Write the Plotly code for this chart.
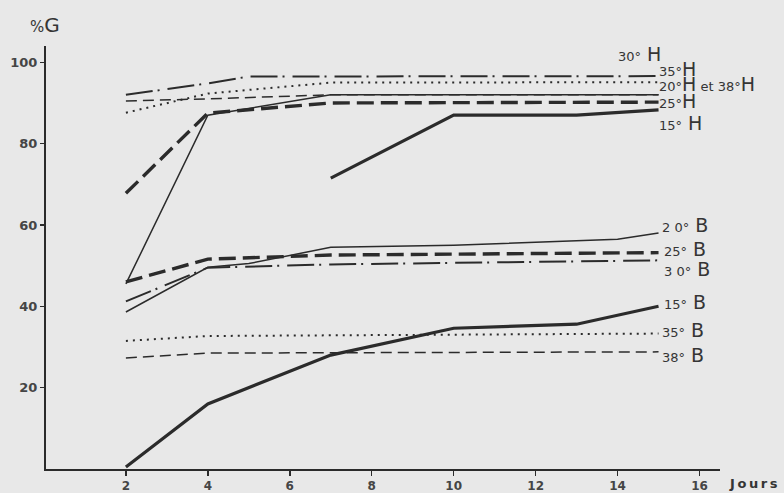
import plotly.graph_objects as go

# ---- data ----
days_15H = [7, 10, 13, 15]
pct_15H = [71.5, 87, 87, 88.3]
days_20H = [2, 4, 7, 15]
pct_20H = [45.5, 87, 92, 92]
days_25H = [2, 4, 7, 15]
pct_25H = [67.8, 87.5, 90, 90.2]
days_30H = [2, 4, 5, 15]
pct_30H = [92, 94.8, 96.5, 96.6]
days_35H = [2, 4, 7, 15]
pct_35H = [87.6, 92.3, 95, 95.1]
days_38H = [2, 4, 7, 15]
pct_38H = [90.5, 91, 92, 92]

days_15B = [2, 4, 7, 10, 13, 15]
pct_15B = [0.5, 16, 28, 34.6, 35.6, 40]
days_20B = [2, 4, 5, 7, 10, 14, 15]
pct_20B = [38.6, 49.6, 50.5, 54.5, 55, 56.5, 58]
days_25B = [2, 4, 7, 15]
pct_25B = [46, 51.6, 52.6, 53.2]
days_30B = [2, 4, 7, 15]
pct_30B = [41.2, 49.5, 50.3, 51.3]
days_35B = [2, 4, 15]
pct_35B = [31.5, 32.7, 33.3]
days_38B = [2, 4, 15]
pct_38B = [27.3, 28.5, 28.8]

x_ticks = [2, 4, 6, 8, 10, 12, 14, 16]
y_ticks = [20, 40, 60, 80, 100]

# ---- styles ----
INK = "#2b2b2b"
TXT = "#353535"
BG = "#e8e8e8"
styles = {
    "15": dict(width=3.2, dash="solid"),
    "20": dict(width=1.5, dash="solid"),
    "25": dict(width=3.4, dash="17px,7px"),
    "30": dict(width=2.0, dash="27px,5px,2px,8px"),
    "35": dict(width=2.0, dash="2px,5px"),
    "38": dict(width=1.5, dash="11px,6px"),
}

series = [
    ("15° H", days_15H, pct_15H, "15"),
    ("20° H", days_20H, pct_20H, "20"),
    ("25° H", days_25H, pct_25H, "25"),
    ("30° H", days_30H, pct_30H, "30"),
    ("35° H", days_35H, pct_35H, "35"),
    ("38° H", days_38H, pct_38H, "38"),
    ("15° B", days_15B, pct_15B, "15"),
    ("20° B", days_20B, pct_20B, "20"),
    ("25° B", days_25B, pct_25B, "25"),
    ("30° B", days_30B, pct_30B, "30"),
    ("35° B", days_35B, pct_35B, "35"),
    ("38° B", days_38B, pct_38B, "38"),
]

fig = go.Figure()
for name, xs, ys, key in series:
    st = styles[key]
    fig.add_trace(go.Scatter(
        x=xs, y=ys, mode="lines", name=name, showlegend=False,
        line=dict(color=INK, width=st["width"], dash=st["dash"]),
        hoverinfo="skip",
    ))

# ---- curve labels ----
def lab(num, letter, extra="", big=19):
    return (f"<span style='font-size:13px'>{num}°</span>"
            f"<span style='font-size:{big}px'>{letter}</span>{extra}")

labels = [
    (lab("30", " H"), 13.98, 102.0),
    (lab("35", "H"), 14.98, 98.4),
    (lab("20", "H", " <span style='font-size:13px'>et 38°</span><span style='font-size:19px'>H</span>"), 14.98, 94.6),
    (lab("25", "H"), 14.98, 90.5),
    (lab("15", " H"), 14.98, 85.1),
    (lab("2 0", " B"), 15.07, 60.1),
    (lab("25", " B"), 15.10, 54.2),
    (lab("3 0", " B"), 15.10, 49.2),
    (lab("15", " B"), 15.10, 41.1),
    (lab("35", " B"), 15.05, 34.2),
    (lab("38", " B"), 15.05, 28.1),
]
for text, x, y in labels:
    fig.add_annotation(x=x, y=y, xref="x", yref="y", text=text, showarrow=False,
                       xanchor="left", yanchor="middle", borderpad=0,
                       font=dict(family="DejaVu Sans", color=TXT, size=13))

# axis titles as free text (pixel-placed via paper coords)
W, H = 784, 493
L, R, T, B = 46, 63.5, 45.7, 23.5
pw, ph = W - L - R, H - T - B

def px_to_paper(px, py):
    return (px - L) / pw, (H - B - py) / ph

gx, gy = px_to_paper(29, 25)
fig.add_annotation(x=gx, y=gy, xref="paper", yref="paper", showarrow=False,
                   xanchor="left", yanchor="middle", borderpad=0,
                   text="<span style='font-size:15px'>%</span><span style='font-size:20px'>G</span>",
                   font=dict(family="DejaVu Sans", color=TXT, size=18))
jx, jy = px_to_paper(729, 484)
fig.add_annotation(x=jx, y=jy, xref="paper", yref="paper", showarrow=False,
                   xanchor="left", yanchor="middle", borderpad=0,
                   text="J\u2009o\u2009u\u2009r\u2009s",
                   font=dict(family="DejaVu Sans", color=TXT, size=13, weight="bold"))

fig.update_xaxes(range=[0.05, 16.5], tickvals=x_ticks, ticktext=[str(v) for v in x_ticks],
                 showline=True, linecolor=INK, linewidth=2, showgrid=False, zeroline=False,
                 ticks="outside", ticklen=5, tickwidth=1.5, tickcolor=INK, automargin=False,
                 tickfont=dict(family="DejaVu Sans", size=12, color="#454545", weight="bold"))
fig.update_yaxes(range=[0, 104], tickvals=y_ticks, ticktext=[str(v) for v in y_ticks],
                 showline=True, linecolor=INK, linewidth=2, showgrid=False, zeroline=False,
                 ticks="outside", ticklen=4, tickwidth=1.5, tickcolor=INK, automargin=False,
                 tickfont=dict(family="DejaVu Sans", size=13, color="#454545", weight="bold"))

fig.update_layout(width=W, height=H, margin=dict(l=L, r=R, t=T, b=B, pad=0, autoexpand=False),
                  paper_bgcolor=BG, plot_bgcolor=BG, showlegend=False)

fig.write_html(
    "out.html",
    config={"displayModeBar": False, "staticPlot": True},
    post_script="document.body.style.margin='0';document.body.style.overflow='hidden';"
                "document.body.style.background='" + BG + "';",
)
